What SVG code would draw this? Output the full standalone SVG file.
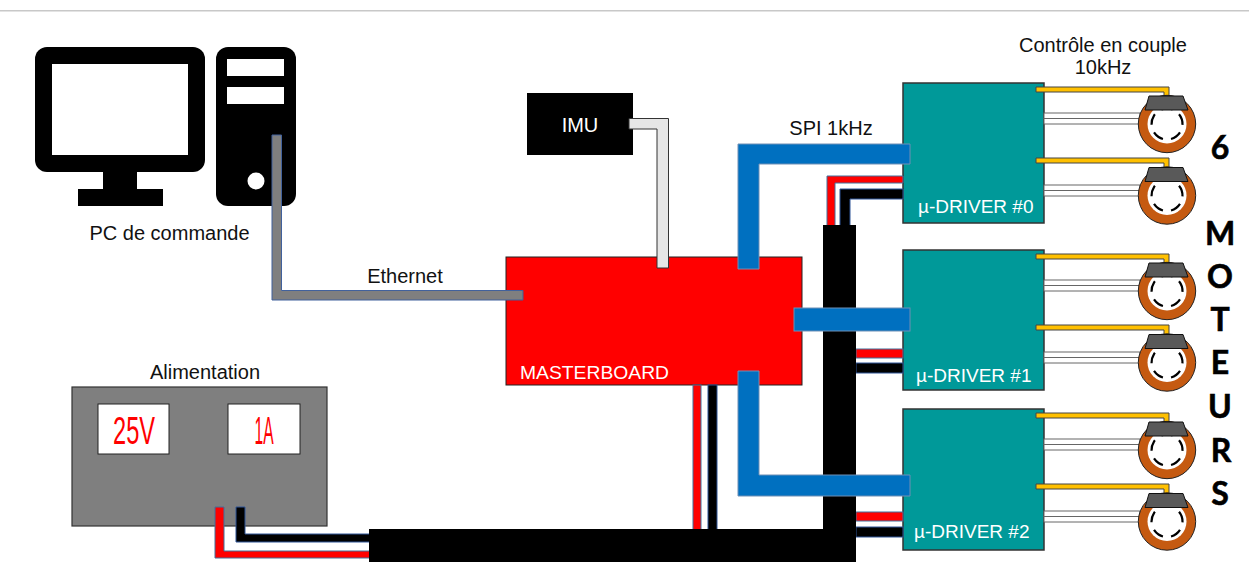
<svg xmlns="http://www.w3.org/2000/svg" xmlns:xlink="http://www.w3.org/1999/xlink" width="1249" height="570" viewBox="0 0 1249 570">
<style>
text{font-family:"Liberation Sans",Arial,sans-serif;font-size:20px;fill:#111}
.w{fill:#fff}
.b19{font-size:19px}
.big{font-family:Lato,"Open Sans",sans-serif;font-weight:700;font-size:32px;fill:#000;stroke:#000;stroke-width:.6;text-anchor:middle}
.mid{text-anchor:middle}
.seg{font-size:38px;fill:#f00;text-anchor:middle}
.drv{fill:#009999;stroke:#333;stroke-width:1.5}
.red{fill:#f00;stroke:#41719c;stroke-width:1}
.blk{fill:#000;stroke:#2f5597;stroke-width:1}
.blue{fill:#0070c0;stroke:#6f8fb5;stroke-width:1}
.yel{fill:#ffc000;stroke:#444;stroke-width:1}
.wht{fill:#fff;stroke:#666;stroke-width:1}
.k{fill:#000}
</style>
<defs>
<g id="motor">
<circle cx="0" cy="0" r="28.7" fill="#c55a11" stroke="#222" stroke-width="1"/>
<circle cx="0" cy="0" r="19.500" fill="#fff"/>
<circle cx="0" cy="0" r="15.500" fill="none" stroke="#000" stroke-width="2.200" pathLength="360" stroke-dasharray="42 30" transform="rotate(33)"/>
<polygon points="-18,-28 16,-28 21,-14 -22,-14" fill="#595959" stroke="#111" stroke-width="1"/>
</g>
<g id="leads">
<polygon class="yel" points="1036,87 1169,87 1169,97 1164,97 1164,92 1036,92"/>
<rect class="wht" x="1044" y="113" width="96" height="5.500"/>
<rect class="wht" x="1044" y="118.500" width="96" height="5.500"/>
<polygon class="yel" points="1036,158 1169,158 1169,168 1164,168 1164,163 1036,163"/>
<rect class="wht" x="1044" y="185" width="96" height="5.500"/>
<rect class="wht" x="1044" y="190.500" width="96" height="5.500"/>
</g>
</defs>
<rect width="1249" height="570" fill="#fff"/>
<rect x="0" y="10" width="1249" height="1.500" fill="#c8c8c8"/>

<g id="pc">
<rect x="35" y="47" width="170" height="125" rx="12" class="k"/>
<rect x="52" y="64" width="136" height="91" fill="#fff"/>
<rect x="103" y="170" width="34" height="20" class="k"/>
<rect x="78" y="189" width="85" height="17" class="k"/>
<rect x="216" y="47" width="80" height="159" rx="12" class="k"/>
<rect x="227" y="59" width="57" height="17" fill="#fff"/>
<rect x="227" y="87" width="57" height="17" fill="#fff"/>
<circle cx="256" cy="181" r="8.500" fill="#fff"/>
<text x="169.500" y="240" class="mid">PC de commande</text>
</g>

<g id="power">
<rect x="72" y="387" width="255" height="139" fill="#7f7f7f" stroke="#333" stroke-width="1.200"/>
<rect x="98" y="404" width="71" height="50" fill="#fff" stroke="#222" stroke-width="1"/>
<rect x="228" y="404" width="72" height="50" fill="#fff" stroke="#222" stroke-width="1"/>
<text x="134" y="444" class="seg" textLength="42" lengthAdjust="spacingAndGlyphs">25V</text>
<text x="264" y="444" class="seg" textLength="19" lengthAdjust="spacingAndGlyphs">1A</text>
<text x="205" y="379" class="mid">Alimentation</text>
</g>

<g id="masterboard">
<rect x="506" y="257" width="296" height="128" fill="#f00" stroke="#222" stroke-width="1"/>
<text x="520" y="379" class="w b19" textLength="149" lengthAdjust="spacingAndGlyphs">MASTERBOARD</text>
</g>

<g id="imu">
<rect x="527" y="93" width="106" height="62" fill="#000"/>
<text x="580" y="132" class="w mid">IMU</text>
</g>

<g id="driver0"><rect x="903" y="83" width="141" height="140" class="drv"/><text x="918" y="213" class="w b19">µ-DRIVER #0</text></g>
<g id="driver1"><rect x="903" y="250" width="141" height="140" class="drv"/><text x="916" y="382" class="w b19">µ-DRIVER #1</text></g>
<g id="driver2"><rect x="903" y="409" width="141" height="141" class="drv"/><text x="914" y="538" class="w b19">µ-DRIVER #2</text></g>

<g id="connectors">
<polygon points="272,135 281.500,135 281.500,290.500 523,290.500 523,300 272,300" fill="#7f7f7f" stroke="#41619c" stroke-width="1"/>
<polygon points="629,118.500 668.500,118.500 668.500,268 657,268 657,129 629,129" fill="#e6e6e6" stroke="#333" stroke-width="1"/>
<rect class="red" x="693" y="385" width="8" height="145"/>
<rect class="blk" x="708" y="385" width="9" height="145"/>
<polygon class="red" points="215,507 224,507 224,551 370,551 370,558 215,558"/>
<polygon class="blk" points="236,507 245,507 245,534 370,534 370,542 236,542"/>
<polygon class="red" points="827,226 827,176 903,176 903,183 835,183 835,226"/>
<polygon class="blk" points="840,226 840,189 903,189 903,199 850,199 850,226"/>
<rect class="red" x="856" y="349" width="47" height="9"/>
<rect class="blk" x="856" y="363" width="47" height="10"/>
<rect class="red" x="856" y="512" width="47" height="9"/>
<rect class="blk" x="856" y="527" width="47" height="10"/>
<rect x="823" y="225" width="33" height="337" fill="#000"/>
<rect x="369" y="529" width="487" height="33" fill="#000"/>
<polygon class="blue" points="738,269 738,144 910,144 910,164 759,164 759,269"/>
<rect class="blue" x="794" y="308" width="116" height="23"/>
<polygon class="blue" points="738,371 759,371 759,475 910,475 910,496 738,496"/>
<use href="#leads"/>
<use href="#leads" transform="translate(0,167)"/>
<use href="#leads" transform="translate(0,326)"/>
</g>

<g id="motor0"><use href="#motor" transform="translate(1167,124)"/></g>
<g id="motor1"><use href="#motor" transform="translate(1167,195.500)"/></g>
<g id="motor2"><use href="#motor" transform="translate(1167,291)"/></g>
<g id="motor3"><use href="#motor" transform="translate(1167,362.500)"/></g>
<g id="motor4"><use href="#motor" transform="translate(1167,450)"/></g>
<g id="motor5"><use href="#motor" transform="translate(1167,521.500)"/></g>

<g id="labels">
<text x="1103" y="52" class="mid">Contrôle en couple</text>
<text x="1103" y="74" class="mid">10kHz</text>
<text x="831" y="135" class="mid">SPI 1kHz</text>
<text x="405" y="283" class="mid">Ethernet</text>
<text x="1220" y="159" class="big">6</text>
<text x="1220" y="245" class="big">M</text>
<text x="1220" y="288" class="big">O</text>
<text x="1220" y="331" class="big">T</text>
<text x="1220" y="374" class="big">E</text>
<text x="1220" y="418" class="big">U</text>
<text x="1221" y="462" class="big">R</text>
<text x="1220" y="505" class="big">S</text>
</g>
</svg>
